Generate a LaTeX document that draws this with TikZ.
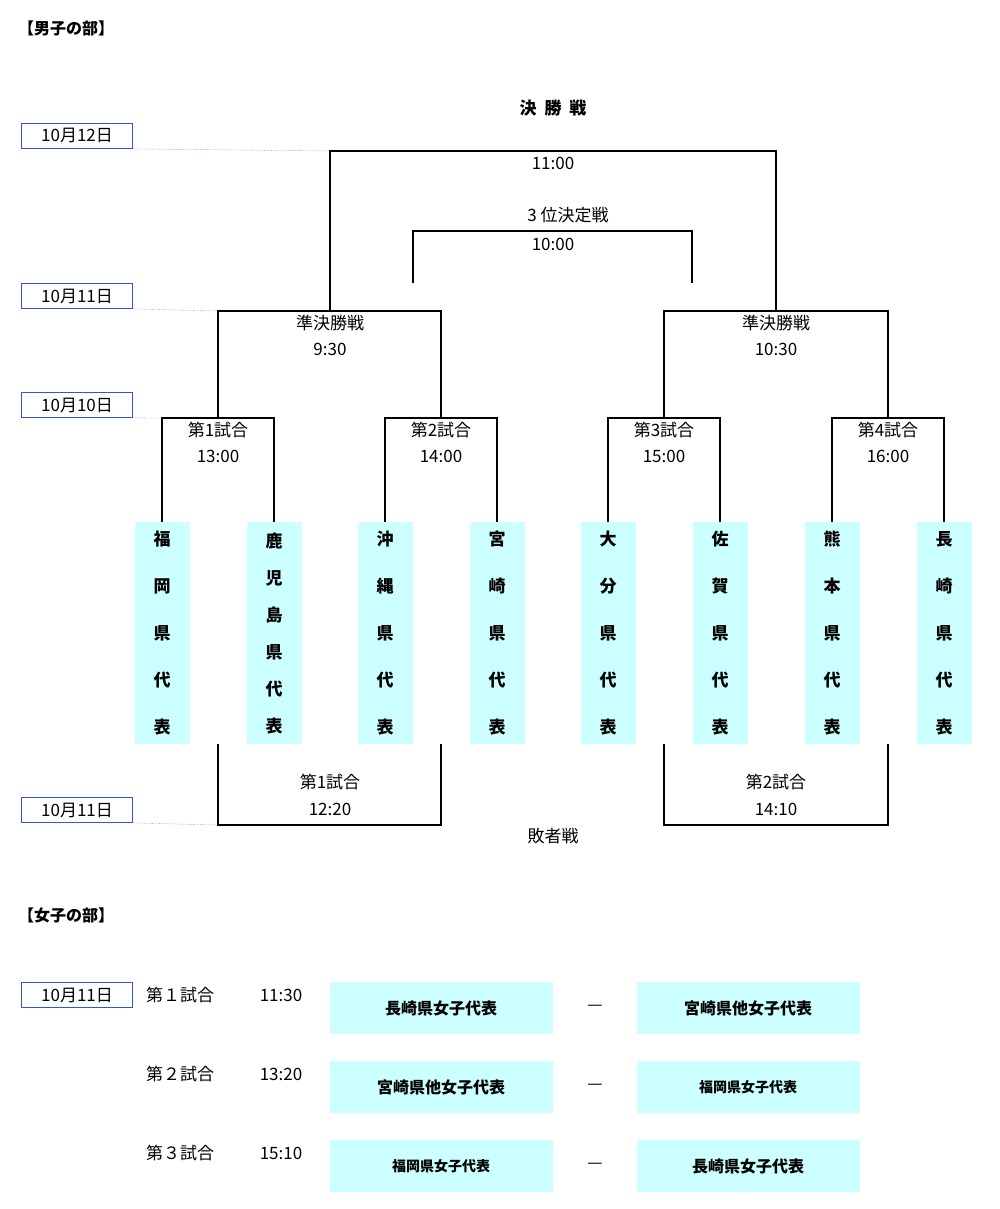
\documentclass[tikz,border=0pt]{standalone}
\usepackage{fontspec}
\setmainfont{Noto Sans CJK JP}
\usetikzlibrary{positioning,calc}
\definecolor{teamcyan}{HTML}{CCFFFF}
\definecolor{dateblue}{HTML}{3355DD}
\begin{document}
\begin{tikzpicture}[
    x=1pt, y=-1pt,
    every node/.style={font=\fontsize{17}{19}\selectfont, inner sep=0pt},
    datebox/.style={draw=dateblue, thick, minimum width=111pt, minimum height=25pt, fill=white},
    dateline/.style={dateblue, densely dotted},
    bracket/.style={line width=2.2pt},
    teambox/.style={fill=teamcyan, minimum width=55pt, minimum height=222pt, anchor=north, align=center, font=\fontsize{17}{19}\bfseries\selectfont},
    womanbox/.style={fill=teamcyan, minimum width=223pt, minimum height=52pt, font=\fontsize{16}{18}\bfseries\selectfont},
    heading/.style={anchor=west, font=\fontsize{16}{18}\bfseries\selectfont},
    ]
    \useasboundingbox (0,0) rectangle (1000,1209);
    % Headings
    \node[heading] (men) at (18,28) {【男子の部】};
    \node[heading] (women) at (18,915) {【女子の部】};
    % Dates
    \node[datebox] (d12) at (77,136) {10月12日};
    \node[datebox] (d11) at (77,296) {10月11日};
    \node[datebox] (d10) at (77,405) {10月10日};
    \node[datebox] (d11b) at (77,810) {10月11日};
    \node[datebox] (d11w) at (77,995) {10月11日};
    \coordinate (f1) at (330,151); \coordinate (f2) at (776,151);
    \coordinate (s1) at (218,311); \coordinate (s2) at (441,311);
    \coordinate (s3) at (664,311); \coordinate (s4) at (888,311);
    \coordinate (l1) at (218,825); \coordinate (l2) at (441,825);
    \coordinate (l3) at (664,825); \coordinate (l4) at (888,825);
    \draw[dateline] (d12.south east) -- (f1);
    \draw[dateline] (d11.south east) -- (s1);
    \draw[dateline] (d10.south east) -- (162,418);
    \draw[dateline] (d11b.south east) -- (l1);
    % Final and third place
    \node[font=\fontsize{17}{19}\bfseries\selectfont] (final) at (553,108) {決\ \ 勝\ \ 戦};
    \node (finalt) at (553,163) {11:00};
    \draw[bracket] (330,311) -- (f1) -- (f2) -- (776,311);
    \node (third) at (568,215) {3 位決定戦};
    \node (thirdt) at (553,244) {10:00};
    \draw[bracket] (413,283) -- (413,231) -- (692,231) -- (692,283);
    % Semifinals
    \node (semi1) at (330,323) {準決勝戦};
    \node (semi1t) at (330,349) {9:30};
    \node (semi2) at (776,323) {準決勝戦};
    \node (semi2t) at (776,349) {10:30};
    \draw[bracket] (218,418) -- (s1) -- (s2) -- (441,418);
    \draw[bracket] (664,418) -- (s3) -- (s4) -- (888,418);
    % Teams
    \foreach \x/\name/\txt in {162/fukuoka/福\\[28pt]岡\\[28pt]県\\[28pt]代\\[28pt]表,
        274/kagoshima/鹿\\[18pt]児\\[18pt]島\\[18pt]県\\[18pt]代\\[18pt]表,
        385/okinawa/沖\\[28pt]縄\\[28pt]県\\[28pt]代\\[28pt]表,
        497/miyazaki/宮\\[28pt]崎\\[28pt]県\\[28pt]代\\[28pt]表,
        608/oita/大\\[28pt]分\\[28pt]県\\[28pt]代\\[28pt]表,
        720/saga/佐\\[28pt]賀\\[28pt]県\\[28pt]代\\[28pt]表,
        832/kumamoto/熊\\[28pt]本\\[28pt]県\\[28pt]代\\[28pt]表,
        944/nagasaki/長\\[28pt]崎\\[28pt]県\\[28pt]代\\[28pt]表}
        \node[teambox] (\name) at (\x,522) {\txt};
    % First round
    \foreach \a/\b/\n/\t in {fukuoka/kagoshima/1/13:00, okinawa/miyazaki/2/14:00,
        oita/saga/3/15:00, kumamoto/nagasaki/4/16:00} {
        \draw[bracket] (\a.north) -- ++(0,-104) -| (\b.north);
        \node (r\n) at ($(\a.north)!0.5!(\b.north) + (0,-92)$) {第\n 試合};
        \node (r\n t) at ($(\a.north)!0.5!(\b.north) + (0,-66)$) {\t};
    }
    % Losers
    \draw[bracket] (218,744) -- (l1) -- (l2) -- (441,744);
    \draw[bracket] (664,744) -- (l3) -- (l4) -- (888,744);
    \node (lose1) at (330,782) {第1試合};
    \node (lose1t) at (330,809) {12:20};
    \node (lose2) at (776,782) {第2試合};
    \node (lose2t) at (776,809) {14:10};
    \node (losers) at (553,836) {敗者戦};
    % Women
    \foreach \y/\n/\t/\a/\b/\sa/\sb in {1008/１/11:30/長崎県女子代表/宮崎県他女子代表/16/16,
        1087/２/13:20/宮崎県他女子代表/福岡県女子代表/16/14,
        1166/３/15:10/福岡県女子代表/長崎県女子代表/14/16} {
        \node (wg\n) at (180,\y-13) {第\n 試合};
        \node (wt\n) at (281,\y-13) {\t};
        \node[womanbox, font=\fontsize{\sa}{18}\bfseries\selectfont] (wa\n) at (441,\y) {\a};
        \node[womanbox, font=\fontsize{\sb}{18}\bfseries\selectfont] (wb\n) at (748,\y) {\b};
        \node (wd\n) at (595,\y) {—};
    }
\end{tikzpicture}
\end{document}
